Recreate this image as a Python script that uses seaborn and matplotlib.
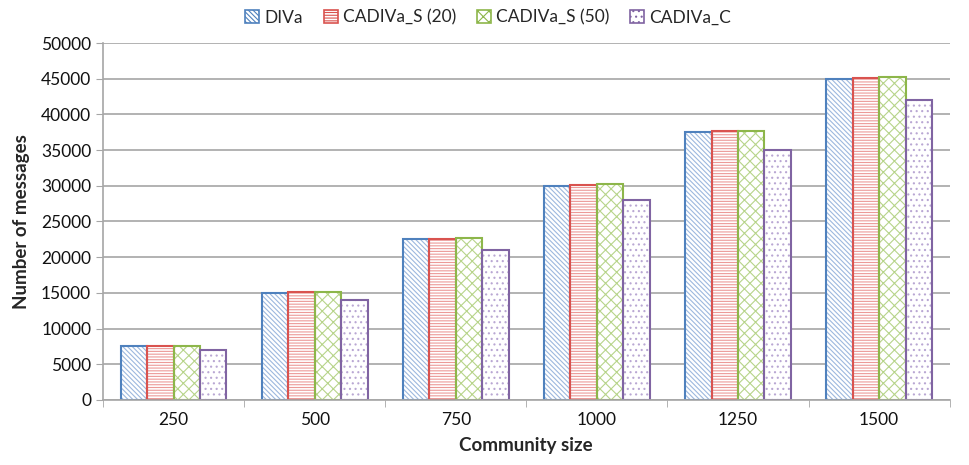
import matplotlib
matplotlib.use("Agg")
import matplotlib.pyplot as plt
from matplotlib.patches import Patch
import numpy as np
import pandas as pd
import seaborn as sns

sizes = ["250", "500", "750", "1000", "1250", "1500"]
series = ["DIVa", "CADIVa_S (20)", "CADIVa_S (50)", "CADIVa_C"]
diva = [7500, 15000, 22500, 30000, 37500, 45000]
cadiva_s20 = [7520, 15050, 22570, 30100, 37620, 45140]
cadiva_s50 = [7550, 15100, 22640, 30200, 37740, 45280]
cadiva_c = [7000, 14000, 21000, 28000, 35000, 42000]

edge_colors = ["#4F81BD", "#D9534F", "#8DB64A", "#8064A2"]
hatch_colors = ["#9DB8DE", "#EC9A98", "#B7D48A", "#B9A7D3"]
hatches = ["\\\\\\\\\\\\\\", "------", "xxx", "..."]

df = pd.DataFrame({
    "size": sizes * 4,
    "series": np.repeat(series, len(sizes)),
    "value": diva + cadiva_s20 + cadiva_s50 + cadiva_c,
})

sns.set_style("white")
plt.rcParams["font.family"] = ["Lato", "DejaVu Sans"]
plt.rcParams["hatch.linewidth"] = 0.8

fig = plt.figure(figsize=(9.69, 4.65), dpi=100)
ax = fig.add_axes([0.1063, 0.140, 0.8737, 0.7675])

# hatched fills
sns.barplot(data=df, x="size", y="value", hue="series", order=sizes,
            hue_order=series, width=0.75, ax=ax, legend=False,
            palette=["white"] * 4, linewidth=0, saturation=1)
for i, cont in enumerate(ax.containers):
    for p in cont:
        p.set_hatch(hatches[i])
        p.set_edgecolor(hatch_colors[i])
        p.set_linewidth(0)

# solid outlines on top
sns.barplot(data=df, x="size", y="value", hue="series", order=sizes,
            hue_order=series, width=0.75, ax=ax, legend=False,
            palette=edge_colors, fill=False, linewidth=1.5, saturation=1)

ax.set_ylim(0, 50000)
ax.set_yticks(np.arange(0, 50001, 5000))
ax.set_xlim(-0.5, len(sizes) - 0.5)
ax.yaxis.grid(True, color="#A6A6A6", linewidth=1.2)
ax.set_axisbelow(True)

for s in ["top", "right"]:
    ax.spines[s].set_visible(False)
for s in ["left", "bottom"]:
    ax.spines[s].set_color("#A6A6A6")
    ax.spines[s].set_linewidth(1.2)

ax.tick_params(axis="y", direction="out", length=5, color="#A6A6A6",
               labelsize=12.5, labelcolor="#111111", left=True)
ax.tick_params(axis="x", which="major", length=0, labelsize=12.5,
               labelcolor="#111111", pad=9)
ax.set_xticks(np.arange(-0.5, len(sizes)), minor=True)
ax.tick_params(axis="x", which="minor", direction="out", length=5,
               color="#A6A6A6", bottom=True)

ax.set_xlabel("Community size", fontsize=13.5, fontweight="bold", labelpad=6)
ax.set_ylabel("Number of messages", fontsize=13.5, fontweight="bold", labelpad=8)

handles = [Patch(facecolor="white", edgecolor=edge_colors[i],
                 hatch=hatches[i], linewidth=1.2, label=series[i])
           for i in range(4)]
fig.legend(handles=handles, loc="center", bbox_to_anchor=(0.504, 0.962),
           ncol=4, frameon=False, fontsize=12.5, handlelength=0.8,
           handleheight=0.8, columnspacing=1.2, handletextpad=0.3)

fig.savefig("out.png", dpi=100)
